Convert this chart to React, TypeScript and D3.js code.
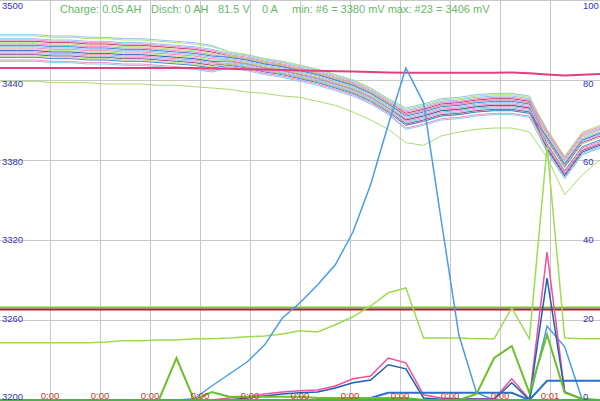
import React from "react";
import * as d3 from "d3";

// left axis: cell voltages in mV, right axis: pack values 0..100
const leftTicks = [3200, 3260, 3320, 3380, 3440, 3500];
const rightTicks = [0, 20, 40, 60, 80, 100];
const timeLabels = ["0:00", "0:00", "0:00", "0:00", "0:00", "0:00", "0:00", "0:00", "0:00", "0:00", "0:01"];
const titleParts = ["Charge: 0.05 AH", "Disch: 0 AH", "81.5 V", "0 A", "min: #6 = 3380 mV max: #23 = 3406 mV"];

// cell voltages (mV), 35 samples each
const cell01 = [3474,3474,3474,3473,3473,3472,3472,3471,3471,3470,3469,3468,3466,3461,3459,3456,3454,3451,3448,3444,3440,3434,3426,3419,3422,3426,3427,3429,3430,3430,3428,3401,3381,3399,3404];
const cell02 = [3473,3473,3473,3472,3472,3471,3471,3470,3470,3469,3468,3467,3465,3461,3459,3456,3454,3451,3448,3444,3440,3434,3426,3418,3421,3425,3426,3428,3429,3429,3427,3403,3383,3401,3406];
const cell03 = [3471,3471,3471,3470,3470,3469,3469,3468,3468,3467,3466,3465,3463,3460,3458,3455,3453,3450,3447,3443,3439,3433,3425,3417,3420,3424,3425,3427,3428,3428,3426,3398,3378,3396,3401];
const cell04 = [3470,3470,3470,3469,3469,3468,3468,3467,3467,3466,3465,3464,3462,3459,3457,3454,3452,3449,3446,3442,3438,3432,3424,3416,3419,3423,3424,3426,3427,3427,3425,3402,3382,3400,3405];
const cell05 = [3469,3469,3469,3468,3468,3467,3467,3466,3466,3465,3464,3463,3461,3458,3456,3453,3451,3448,3445,3441,3437,3431,3423,3415,3418,3422,3423,3425,3426,3426,3424,3395,3375,3393,3398];
const cell06 = [3468,3468,3468,3467,3467,3466,3466,3465,3465,3464,3463,3462,3460,3458,3456,3453,3451,3448,3445,3441,3437,3431,3423,3414,3417,3421,3422,3424,3425,3425,3423,3399,3379,3397,3402];
const cell07 = [3467,3467,3467,3466,3466,3465,3465,3464,3464,3463,3462,3461,3459,3457,3455,3452,3450,3447,3444,3440,3436,3430,3422,3414,3417,3421,3422,3424,3425,3425,3423,3400,3380,3398,3403];
const cell08 = [3466,3466,3466,3465,3465,3464,3464,3463,3463,3462,3461,3460,3458,3457,3455,3452,3450,3447,3444,3440,3436,3430,3422,3413,3416,3420,3421,3423,3424,3424,3422,3392,3372,3390,3395];
const cell09 = [3465,3465,3465,3464,3464,3463,3463,3462,3462,3461,3460,3459,3457,3456,3454,3451,3449,3446,3443,3439,3435,3429,3421,3412,3415,3419,3420,3422,3423,3423,3421,3396,3376,3394,3399];
const cell10 = [3464,3464,3464,3463,3463,3462,3462,3461,3461,3460,3459,3458,3456,3455,3453,3450,3448,3445,3442,3438,3434,3428,3420,3411,3414,3418,3419,3421,3422,3422,3420,3390,3370,3388,3393];
const cell11 = [3463,3463,3463,3462,3462,3461,3461,3460,3460,3459,3458,3457,3455,3455,3453,3450,3448,3445,3442,3438,3434,3428,3420,3410,3413,3417,3418,3420,3421,3421,3419,3394,3374,3392,3397];
const cell12 = [3462,3462,3462,3461,3461,3460,3460,3459,3459,3458,3457,3456,3454,3454,3452,3449,3447,3444,3441,3437,3433,3427,3419,3410,3413,3417,3418,3420,3421,3421,3419,3388,3368,3386,3391];
const cell13 = [3461,3461,3461,3460,3460,3459,3459,3458,3458,3457,3456,3455,3453,3454,3452,3449,3447,3444,3441,3437,3433,3427,3419,3409,3412,3416,3417,3419,3420,3420,3418,3397,3377,3395,3400];
const cell14 = [3460,3460,3460,3459,3459,3458,3458,3457,3457,3456,3455,3454,3452,3453,3451,3448,3446,3443,3440,3436,3432,3426,3418,3408,3411,3415,3416,3418,3419,3419,3417,3387,3367,3385,3390];
const cell15 = [3459,3459,3459,3458,3458,3457,3457,3456,3456,3455,3454,3453,3451,3452,3450,3447,3445,3442,3439,3435,3431,3425,3417,3407,3410,3414,3415,3417,3418,3418,3416,3389,3369,3387,3392];
const cell16 = [3458,3458,3458,3457,3457,3456,3456,3455,3455,3454,3453,3452,3450,3452,3450,3447,3445,3442,3439,3435,3431,3425,3417,3406,3409,3413,3414,3416,3417,3417,3415,3386,3366,3384,3389];
const cell17 = [3457,3457,3457,3456,3456,3455,3455,3454,3454,3453,3452,3451,3449,3451,3449,3446,3444,3441,3438,3434,3430,3424,3416,3406,3409,3413,3414,3416,3417,3417,3415,3397,3377,3395,3400];
const cell18 = [3455,3455,3455,3454,3454,3453,3453,3452,3452,3451,3450,3449,3447,3450,3448,3445,3443,3440,3437,3433,3429,3423,3415,3404,3407,3411,3412,3414,3415,3415,3413,3391,3371,3389,3394];
const cell19 = [3454,3454,3454,3453,3453,3452,3452,3451,3451,3450,3449,3448,3446,3449,3447,3444,3442,3439,3436,3432,3428,3422,3414,3403,3406,3410,3411,3413,3414,3414,3412,3386,3366,3384,3389];
const cellLow = [3439,3439,3439,3438,3438,3438,3437,3437,3437,3436,3436,3435,3434,3433,3431,3430,3428,3427,3424,3421,3416,3410,3403,3393,3391,3398,3401,3403,3404,3404,3401,3382,3354,3369,3380];

const cells = [cell01, cell02, cell03, cell04, cell05, cell06, cell07, cell08, cell09, cell10, cell11, cell12, cell13, cell14, cell15, cell16, cell17, cell18, cell19];
const cellColors = ["#8fc4f2", "#b5e27c", "#8fc4f2", "#f08cbe", "#c8357a", "#b5e27c", "#f08cbe", "#3f83d6", "#8fc4f2", "#f08cbe", "#b5e27c", "#2b5fb4", "#f08cbe", "#8fc4f2", "#9a4a8a", "#b5e27c", "#3f83d6", "#f08cbe", "#8fc4f2"];

// right axis series
const packVolts = [83,83,83,83,83,83,83,83,83,83,83,83,82.9,82.8,82.7,82.6,82.5,82.4,82.3,82.2,82.1,82,81.9,81.8,81.8,81.8,81.8,81.8,81.8,81.9,81.7,81.4,81.1,81.3,81.5];
const levelGreen = 23.1;
const levelRed = 22.6;
const lightGreenSeries = [14.3,14.3,14.3,14.3,14.3,14.3,14.5,14.8,14.8,15,15,15.3,15.3,15.5,15.8,16,16.5,17.3,17,18.8,20.8,23.5,26.8,28,15.5,15.5,15.5,15.3,15.3,23,15.3,63.3,15.5,15.3,15.3];
const blueSpike = [0,0,0,0,0,0,0,0,0,0,0,0.3,3.5,6.5,9.5,13.8,20.5,24.3,28.8,33.8,42,53.8,68.8,83,74.3,45,16.3,1.8,0,0,0,18.5,13.3,0,0];
const pinkSeries = [0,0,0,0,0,0,0,0,0,0,0,0,0,0.5,0.8,1.5,2,2.3,2.5,3.5,5.3,6,10.5,9.3,1.3,0.5,0.3,0.3,0.3,5.3,0.2,37,2,0.2,0];
const darkBlueSeries = [0,0,0,0,0,0,0,0,0,0,0,0,0,0,0.5,1,1.5,1.8,2,3,4.3,5,8.8,7.8,0.5,0.2,0.2,0.2,0.2,4.3,0,30.5,2,0.2,0];
const stepBlue = [0,0,0,0,0,0,0,0,0,0,0,0,0,0,0,0,0,0,0,0,0,0.5,1.8,1.8,1.8,1.8,1.8,1.8,1.8,1.8,0,4.8,4.8,4.8,4.8];
const greenSeries = [0,0,0,0,0,0,0,0,0,0,10.5,0,2,0.8,0.8,0.8,0.8,0.8,0.5,0.5,0.5,0.5,0.5,0.5,0,0,0,1.5,10.5,13.5,1.8,16.3,1.8,0.3,0];
const baseSeries = [0,0,0,0,0,0,0,0,0,0,0,0,0,0,0,0,0,0,0,0,0,0,0,0,0,0,0,0,0,0,0,0,0,0,0];

const App: React.FC = () => {
  const PH = 400;
  const x = d3.scaleLinear().domain([0, 34]).range([0, 600]);
  const yL = d3.scaleLinear().domain([3200, 3500]).range([PH, 0]);
  const yR = d3.scaleLinear().domain([0, 100]).range([PH, 0]);
  const xT = d3.scaleLinear().domain([0, 12]).range([0, 600]);

  const lineL = d3.line<number>().x((_, i) => x(i)).y((d) => yL(d));
  const lineR = d3.line<number>().x((_, i) => x(i)).y((d) => yR(d));

  // labels creep from below the gridline (top) to above it (bottom)
  const labelY = (yy: number) => yy + 8.5 * (1 - yy / PH);
  const titleX = [60, 151, 218, 262, 292];

  return (
    <svg
      width={600}
      height={401}
      style={{ position: "absolute", left: 0, top: 0, display: "block", background: "#fff" }}
      fontFamily="'Liberation Sans', Arial, sans-serif"
    >
      <rect width={600} height={401} fill="#fff" />
      {/* grid */}
      {leftTicks.map((t) => (
        <line key={"h" + t} x1={0} x2={600} y1={yL(t) + 0.5} y2={yL(t) + 0.5} stroke="#c8c8c8" />
      ))}
      {timeLabels.map((_, k) => (
        <line key={"v" + k} x1={xT(k + 1) + 0.5} x2={xT(k + 1) + 0.5} y1={0} y2={PH} stroke="#c8c8c8" />
      ))}

      {/* level lines */}
      <line x1={x(0)} x2={x(34)} y1={yR(levelGreen)} y2={yR(levelGreen)} stroke="#7cc23a" strokeWidth={2} />
      <line x1={x(0)} x2={x(34)} y1={yR(levelRed)} y2={yR(levelRed)} stroke="#a3204c" strokeWidth={2} />

      {/* cells */}
      <g fill="none" strokeWidth={1}>
        {cells.map((c, i) => (
          <path key={i} d={lineL(c) || ""} stroke={cellColors[i]} />
        ))}
        <path d={lineL(cellLow) || ""} stroke="#a8dc70" />
      </g>

      {/* right axis series */}
      <g fill="none">
        <path d={lineR(packVolts) || ""} stroke="#e0407e" strokeWidth={2} />
        <path d={lineR(lightGreenSeries) || ""} stroke="#9bdc52" strokeWidth={1.5} />
        <path d={lineR(blueSpike) || ""} stroke="#4a9be8" strokeWidth={1.5} />
        <path d={lineR(pinkSeries) || ""} stroke="#f0509a" strokeWidth={1.5} />
        <path d={lineR(darkBlueSeries) || ""} stroke="#1f5fb0" strokeWidth={1.5} />
        <path d={lineR(stepBlue) || ""} stroke="#2a70c8" strokeWidth={2} />
        <path d={lineR(greenSeries) || ""} stroke="#6cbf2a" strokeWidth={2} />
        <path d={lineR(baseSeries) || ""} stroke="#4caf50" strokeWidth={2} />
      </g>

      {/* axis labels */}
      <g fontSize={9.5} fill="#3535b5">
        {leftTicks.map((t) => (
          <text key={"l" + t} x={2} y={labelY(yL(t))}>{t}</text>
        ))}
        {rightTicks.map((t) => (
          <text key={"r" + t} x={583} y={labelY(yR(t))}>{t}</text>
        ))}
      </g>
      <g fontSize={9.5} fill="#cc3333" textAnchor="middle">
        {timeLabels.map((s, k) => (
          <text key={"t" + k} x={xT(k + 1)} y={399}>{s}</text>
        ))}
      </g>
      <g fontSize={11} fill="#66b866">
        {titleParts.map((s, k) => (
          <text key={"ti" + k} x={titleX[k]} y={12.5}>{s}</text>
        ))}
      </g>
    </svg>
  );
};

export default App;
